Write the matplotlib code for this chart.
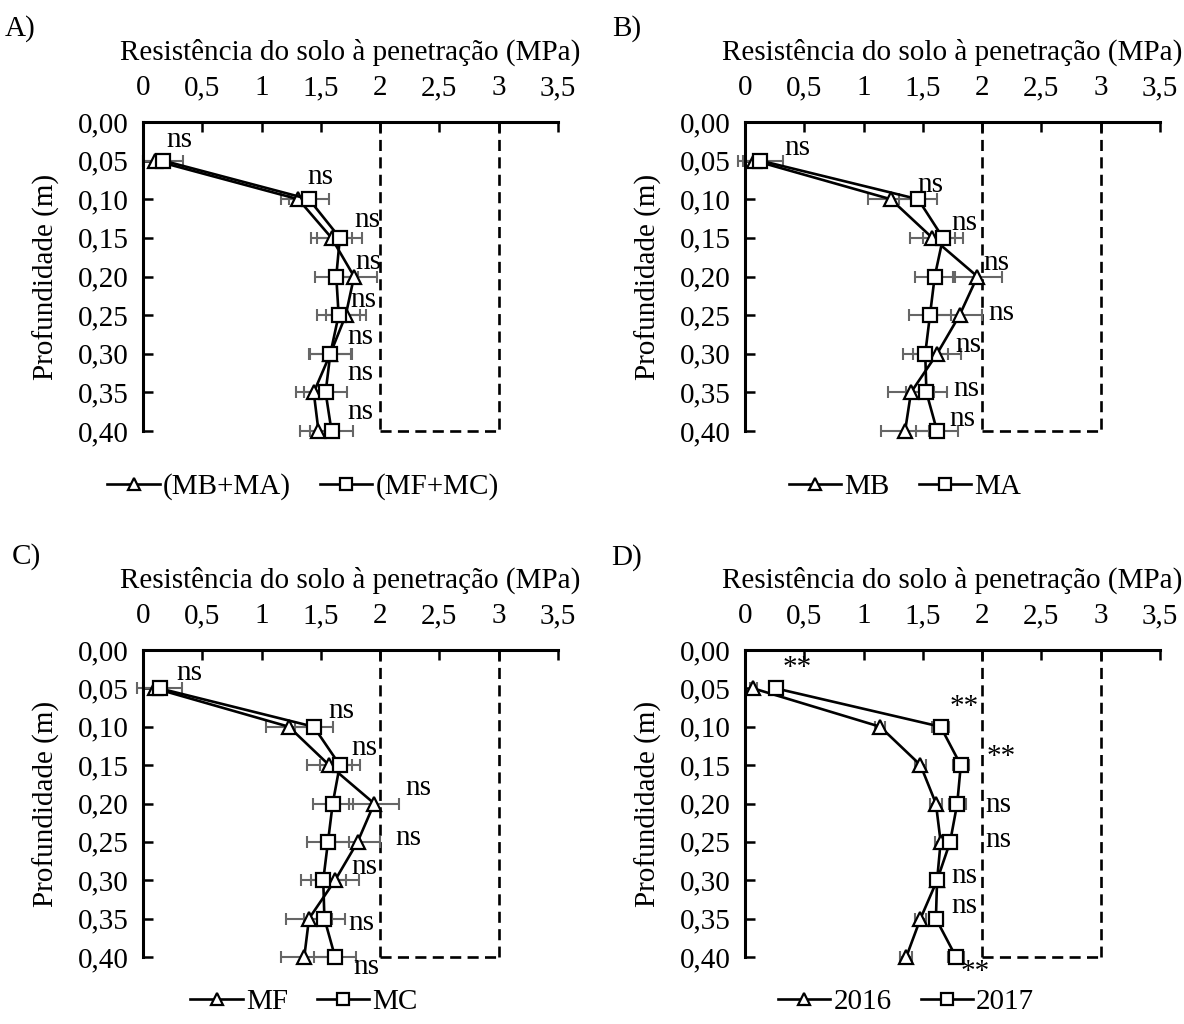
import matplotlib
matplotlib.use("Agg")
import matplotlib.pyplot as plt
from matplotlib.ticker import FuncFormatter

plt.rcParams['font.family'] = ['Liberation Serif', 'DejaVu Serif']

# profundidade (m)
depth = [0.05, 0.10, 0.15, 0.20, 0.25, 0.30, 0.35, 0.40]

# A) (MB+MA) x (MF+MC)
a_tri = [0.10, 1.31, 1.59, 1.78, 1.71, 1.58, 1.44, 1.48]
a_tri_err = [0.10, 0.15, 0.17, 0.19, 0.17, 0.17, 0.15, 0.16]
a_sq = [0.17, 1.40, 1.66, 1.63, 1.65, 1.58, 1.54, 1.59]
a_sq_err = [0.17, 0.17, 0.19, 0.18, 0.18, 0.18, 0.18, 0.18]
a_labels = ['(MB+MA)', '(MF+MC)']
a_sig = ['ns'] * 8
a_sig_x = [0.31, 1.50, 1.89, 1.90, 1.86, 1.83, 1.83, 1.83]
a_sig_y = [0.023, 0.071, 0.127, 0.181, 0.230, 0.278, 0.325, 0.375]

# B) MB x MA
b_tri = [0.08, 1.23, 1.58, 1.96, 1.81, 1.62, 1.40, 1.35]
b_tri_err = [0.10, 0.19, 0.19, 0.21, 0.19, 0.20, 0.19, 0.20]
b_sq = [0.13, 1.46, 1.67, 1.60, 1.56, 1.52, 1.53, 1.62]
b_sq_err = [0.19, 0.16, 0.17, 0.17, 0.18, 0.19, 0.17, 0.18]
b_labels = ['MB', 'MA']
b_sig = ['ns'] * 8
b_sig_x = [0.44, 1.56, 1.85, 2.12, 2.16, 1.88, 1.87, 1.83]
b_sig_y = [0.034, 0.082, 0.131, 0.183, 0.247, 0.289, 0.345, 0.384]

# C) MF x MC
c_tri = [0.10, 1.23, 1.57, 1.95, 1.81, 1.62, 1.40, 1.36]
c_tri_err = [0.10, 0.19, 0.19, 0.21, 0.19, 0.20, 0.19, 0.20]
c_sq = [0.14, 1.44, 1.66, 1.60, 1.56, 1.52, 1.53, 1.62]
c_sq_err = [0.19, 0.16, 0.17, 0.17, 0.18, 0.19, 0.17, 0.18]
c_labels = ['MF', 'MC']
c_sig = ['ns'] * 8
c_sig_x = [0.39, 1.67, 1.87, 2.32, 2.24, 1.87, 1.84, 1.88]
c_sig_y = [0.030, 0.080, 0.128, 0.180, 0.245, 0.283, 0.356, 0.413]

# D) 2016 x 2017
d_tri = [0.07, 1.14, 1.48, 1.61, 1.65, 1.62, 1.48, 1.36]
d_tri_err = [0.03, 0.04, 0.05, 0.05, 0.05, 0.05, 0.05, 0.05]
d_sq = [0.26, 1.65, 1.82, 1.79, 1.73, 1.62, 1.61, 1.78]
d_sq_err = [0.04, 0.07, 0.07, 0.07, 0.06, 0.05, 0.06, 0.07]
d_labels = ['2016', '2017']
d_sig = ['**', '**', '**', 'ns', 'ns', 'ns', 'ns', '**']
d_sig_x = [0.44, 1.85, 2.16, 2.14, 2.14, 1.85, 1.85, 1.94]
d_sig_y = [0.024, 0.074, 0.139, 0.202, 0.248, 0.294, 0.333, 0.420]

panels = [
    ('A)', a_tri, a_tri_err, a_sq, a_sq_err, a_labels, a_sig, a_sig_x, a_sig_y),
    ('B)', b_tri, b_tri_err, b_sq, b_sq_err, b_labels, b_sig, b_sig_x, b_sig_y),
    ('C)', c_tri, c_tri_err, c_sq, c_sq_err, c_labels, c_sig, c_sig_x, c_sig_y),
    ('D)', d_tri, d_tri_err, d_sq, d_sq_err, d_labels, d_sig, d_sig_x, d_sig_y),
]

W, H = 1184, 1024
fig = plt.figure(figsize=(W / 100, H / 100), dpi=100)

# axes boxes in pixels: left, top, right, bottom
boxes = [(143, 122, 558, 431), (745, 122, 1160, 431),
         (143, 650, 558, 957), (745, 650, 1160, 957)]
letter_pos = [(20, 29), (627, 29), (26, 557), (627, 558)]
legend_pos = [(303, 487), (905, 487), (304, 1002), (906, 1002)]

FS = 21
ERR_COLOR = '#666666'
DASH = (0, (4.2, 2.4))

for i, (letter, tri, tri_e, sq, sq_e, labels, sig, sx, sy) in enumerate(panels):
    l, t, r, b = boxes[i]
    ax = fig.add_axes([l / W, 1 - b / H, (r - l) / W, (b - t) / H])

    for vals, errs in ((tri, tri_e), (sq, sq_e)):
        eb = ax.errorbar(vals, depth, xerr=errs, fmt='none', ecolor=ERR_COLOR,
                         elinewidth=1.5, capsize=4, capthick=1.5, zorder=2)
        for art in eb.lines[1] + eb.lines[2]:
            art.set_clip_on(False)
    l1, = ax.plot(tri, depth, color='black', lw=1.9, marker='^', ms=9.5,
                  mfc='white', mec='black', mew=1.6, zorder=4, clip_on=False)
    l2, = ax.plot(sq, depth, color='black', lw=1.9, marker='s', ms=9.5,
                  mfc='white', mec='black', mew=1.6, zorder=5, clip_on=False)

    # faixa de referência 2-3 MPa
    ax.plot([2, 2], [0, 0.40], color='black', ls=DASH, lw=1.9, zorder=1, clip_on=False)
    ax.plot([3, 3], [0, 0.40], color='black', ls=DASH, lw=1.9, zorder=1, clip_on=False)
    ax.plot([2, 3], [0.40, 0.40], color='black', ls=DASH, lw=1.9, zorder=1, clip_on=False)

    for txt, x, y in zip(sig, sx, sy):
        ax.text(x, y, txt, fontsize=FS, ha='center', va='center', zorder=6)

    ax.set_xlim(0, 3.5)
    ax.set_ylim(0.40, 0.0)
    ax.set_xticks([0, 0.5, 1, 1.5, 2, 2.5, 3, 3.5])
    ax.set_yticks([0.0] + depth)
    ax.xaxis.set_major_formatter(FuncFormatter(lambda v, p: ('%g' % v).replace('.', ',')))
    ax.yaxis.set_major_formatter(FuncFormatter(lambda v, p: ('%.2f' % v).replace('.', ',')))
    ax.xaxis.tick_top()
    ax.xaxis.set_label_position('top')
    ax.tick_params(axis='x', direction='in', length=7, width=1.8, labelsize=FS, pad=15)
    ax.tick_params(axis='y', direction='in', length=7, width=1.8, labelsize=FS, pad=10)
    for side in ('right', 'bottom'):
        ax.spines[side].set_visible(False)
    for side in ('top', 'left'):
        ax.spines[side].set_linewidth(2.2)
    ax.set_xlabel('Resistência do solo à penetração (MPa)', fontsize=FS, labelpad=11)
    ax.set_ylabel('Profundidade (m)', fontsize=FS, labelpad=13)

    fig.text(letter_pos[i][0] / W, 1 - letter_pos[i][1] / H, letter,
             fontsize=FS, ha='center', va='center')

    lx, ly = legend_pos[i]
    fig.legend([l1, l2], labels, loc='center', bbox_to_anchor=(lx / W, 1 - ly / H),
               ncol=2, frameon=False, fontsize=FS, handlelength=1.8,
               handletextpad=0.1, columnspacing=1.0, markerscale=0.85)

fig.savefig('out.png', dpi=100)
